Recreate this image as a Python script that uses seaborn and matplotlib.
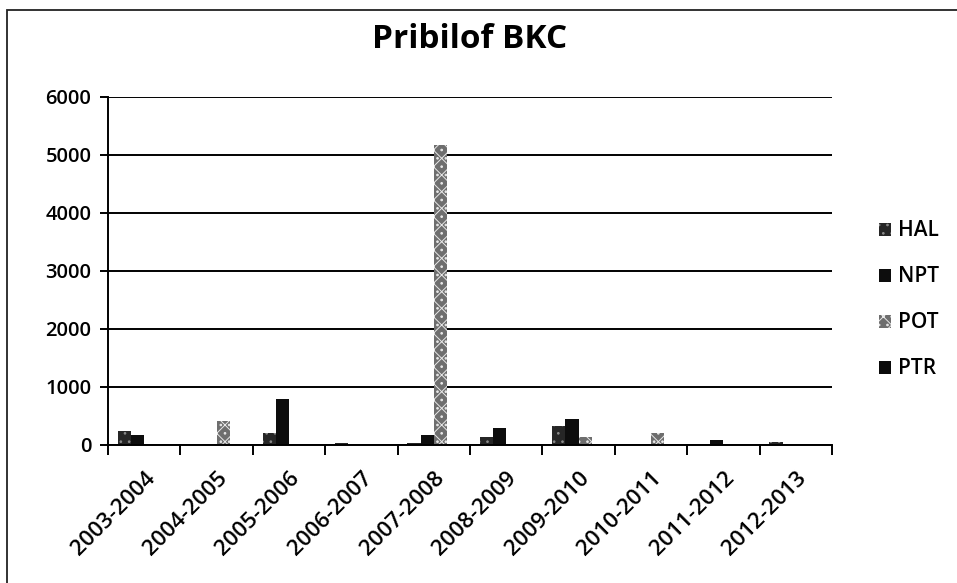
import matplotlib
matplotlib.use("Agg")
import pandas as pd
import seaborn as sns
from matplotlib import pyplot as plt
from matplotlib.patches import Rectangle

seasons = ["2003-2004", "2004-2005", "2005-2006", "2006-2007", "2007-2008",
           "2008-2009", "2009-2010", "2010-2011", "2011-2012", "2012-2013"]
hal = [240, 20, 200, 40, 30, 130, 320, 0, 0, 60]
npt = [170, 25, 790, 20, 170, 290, 440, 0, 90, 0]
pot = [0, 410, 0, 0, 5170, 0, 130, 200, 0, 0]
ptr = [0, 0, 0, 0, 0, 0, 0, 0, 0, 0]
gears = ["HAL", "NPT", "POT", "PTR"]

df = pd.DataFrame({"season": seasons, "HAL": hal, "NPT": npt, "POT": pot, "PTR": ptr})
df = df.melt(id_vars="season", var_name="gear", value_name="count")

sns.set_theme(style="white")
plt.rcParams["font.family"] = ["Open Sans", "DejaVu Sans"]
plt.rcParams["font.weight"] = 600
plt.rcParams["hatch.linewidth"] = 0.7

fig = plt.figure(figsize=(9.57, 5.83), dpi=100)
ax = fig.add_axes([108 / 957, 1 - 445 / 583, (832 - 108) / 957, (445 - 97) / 583])

colors = {"HAL": "#262626", "NPT": "#0d0d0d", "POT": "#6e6e6e", "PTR": "#0a0a0a"}
sns.barplot(data=df, x="season", y="count", hue="gear", hue_order=gears,
            palette=colors, width=0.727, gap=0, ax=ax, legend=False)

hatches = {"HAL": "..", "NPT": "", "POT": "xx..", "PTR": ""}
edges = {"HAL": "#8a8a8a", "NPT": "#0d0d0d", "POT": "#e8e8e8", "PTR": "#0a0a0a"}
for cont, g in zip(ax.containers, gears):
    for bar in cont:
        bar.set_hatch(hatches[g])
        bar.set_edgecolor(edges[g])
        bar.set_linewidth(0)

ax.set_ylim(0, 6000)
ax.set_xlim(-0.5, 9.5)
ax.set_yticks(range(0, 6001, 1000))
ax.yaxis.grid(True, color="black", linewidth=1.4)
ax.set_axisbelow(True)
for s in ["top", "right"]:
    ax.spines[s].set_visible(False)
for s in ["left", "bottom"]:
    ax.spines[s].set_color("black")
    ax.spines[s].set_linewidth(1.4)

ax.set_xticks([i - 0.5 for i in range(11)], minor=True)
ax.tick_params(axis="x", which="minor", length=7, width=1.4, color="black", direction="out", bottom=True)
ax.tick_params(axis="x", which="major", length=0, pad=16)
ax.tick_params(axis="y", length=6, width=1.4, color="black", direction="out", left=True, labelsize=14.5, pad=6)
ax.set_xticks(range(10))
ax.set_xticklabels(seasons, rotation=45, ha="right", rotation_mode="anchor", fontsize=16)
for lbl in ax.get_xticklabels() + ax.get_yticklabels():
    lbl.set_color("black")
ax.set_xlabel("")
ax.set_ylabel("")

fig.text(470 / 957, 1 - 40 / 583, "Pribilof BKC", ha="center", va="center",
         fontsize=24, fontweight="bold", color="black")

handles = [Rectangle((0, 0), 1, 1, facecolor=colors[g], hatch=hatches[g],
                     edgecolor=edges[g], linewidth=0) for g in gears]
fig.legend(handles, gears, loc="center left", bbox_to_anchor=(860 / 957, 1 - 300 / 583),
           frameon=False, fontsize=15, handlelength=0.6, handleheight=0.6,
           handletextpad=0.3, labelspacing=1.2, labelcolor="black")

fig.patches.append(Rectangle((7 / 957, -0.01), 1.0, 1 - 10 / 583 + 0.01,
                             transform=fig.transFigure, fill=False,
                             edgecolor="#222222", linewidth=1.3))

fig.savefig("out.png", dpi=100)
